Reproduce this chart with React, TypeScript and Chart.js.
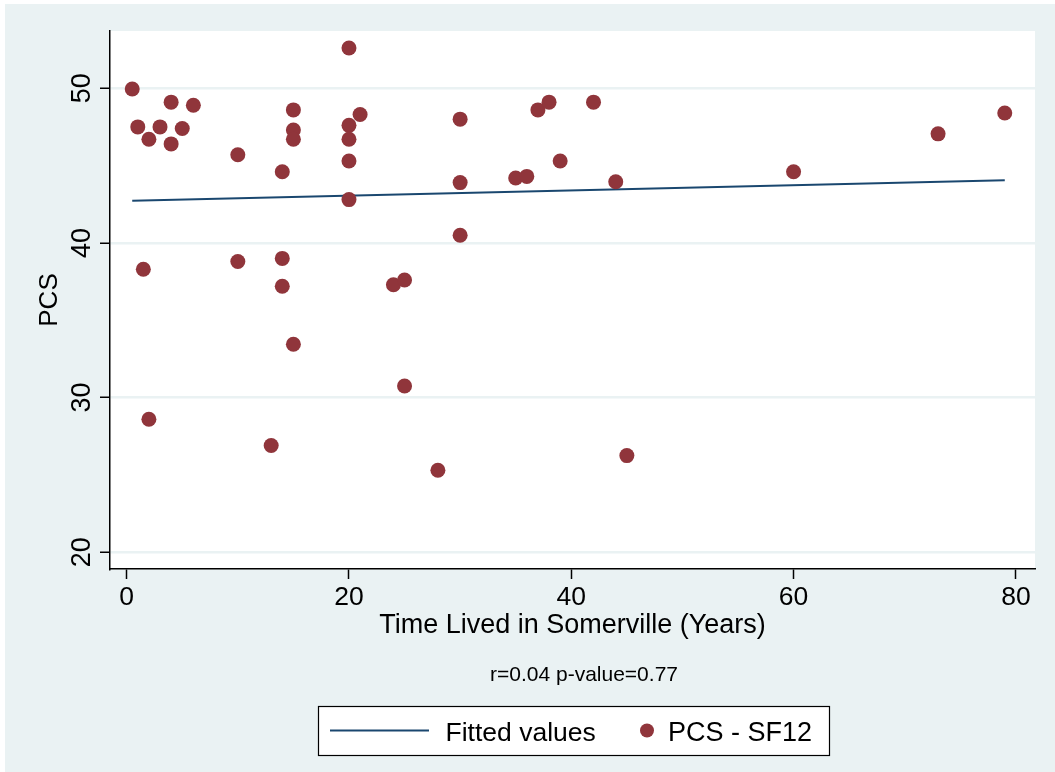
import React, { useEffect, useRef } from "react";
import { Chart, registerables } from "chart.js";

Chart.register(...registerables);

// Time lived in Somerville (years) and PCS - SF12 values
const timeYears = [
  0.5, 1, 1.5, 2, 2, 3, 4, 4, 5, 6,
  10, 10, 13, 14, 14, 14, 15, 15, 15, 15,
  20, 20, 20, 20, 20, 21, 24, 25, 25, 28,
  30, 30, 30, 35, 36, 37, 38, 39, 42, 44,
  45, 60, 73, 79,
];
const pcsValues = [
  49.95, 47.5, 38.3, 46.7, 28.6, 47.5, 49.1, 46.4, 47.4, 48.9,
  45.7, 38.8, 26.9, 44.6, 39.0, 37.2, 48.6, 47.3, 46.7, 33.45,
  52.6, 47.6, 46.7, 45.3, 42.8, 48.3, 37.3, 37.6, 30.75, 25.3,
  48.0, 43.9, 40.5, 44.2, 44.3, 48.6, 49.1, 45.3, 49.1, 43.95,
  26.25, 44.6, 47.05, 48.4,
];
// Fitted values line (end points)
const fitX = [0.5, 79];
const fitY = [42.72, 44.05];

const xTickValues = [0, 20, 40, 60, 80];
const yTickValues = [20, 30, 40, 50];

const xTitle = "Time Lived in Somerville (Years)";
const yTitle = "PCS";
const noteText = "r=0.04 p-value=0.77";
const fitLabel = "Fitted values";
const scatterLabel = "PCS - SF12";

const BG = "#eaf2f3";
const NAVY = "#1a476f";
const MAROON = "#90353b";
const FONT = "'Liberation Sans', Arial, Helvetica, sans-serif";

export default function App() {
  const canvasRef = useRef<HTMLCanvasElement | null>(null);

  useEffect(() => {
    const canvas = canvasRef.current;
    if (!canvas) return;

    const bgPlugin = {
      id: "stataBg",
      beforeDraw(chart: any) {
        const { ctx, chartArea } = chart;
        ctx.save();
        ctx.fillStyle = "#ffffff";
        ctx.fillRect(0, 0, chart.width, chart.height);
        ctx.fillStyle = BG;
        ctx.fillRect(5, 4, chart.width - 5, chart.height - 4);
        ctx.fillStyle = "#ffffff";
        ctx.fillRect(
          chartArea.left,
          chartArea.top,
          chartArea.right - chartArea.left,
          chartArea.bottom - chartArea.top
        );
        ctx.restore();
      },
      afterDraw(chart: any) {
        const { ctx } = chart;
        const yScale = chart.scales.y;
        ctx.save();
        // rotated y tick labels
        ctx.fillStyle = "#000";
        ctx.font = `27px ${FONT}`;
        yScale.ticks.forEach((t: any) => {
          const py = yScale.getPixelForValue(t.value);
          ctx.save();
          ctx.translate(89.5, py);
          ctx.rotate(-Math.PI / 2);
          ctx.textAlign = "center";
          ctx.textBaseline = "alphabetic";
          ctx.fillText(String(t.value), 0, 0);
          ctx.restore();
        });

        // note
        ctx.font = `21px ${FONT}`;
        ctx.textAlign = "center";
        ctx.textBaseline = "alphabetic";
        ctx.fillText(noteText, 584, 681);

        // legend
        const bx = 318, by = 706, bw = 511, bh = 49;
        ctx.fillStyle = "#ffffff";
        ctx.fillRect(bx, by, bw, bh);
        ctx.strokeStyle = "#000";
        ctx.lineWidth = 1.2;
        ctx.strokeRect(bx + 0.5, by + 0.5, bw, bh);
        const ds = chart.data.datasets;
        ctx.strokeStyle = ds[0].borderColor;
        ctx.lineWidth = 2;
        ctx.beginPath();
        ctx.moveTo(330, 730.5);
        ctx.lineTo(429, 730.5);
        ctx.stroke();
        ctx.fillStyle = "#000";
        ctx.font = `26.5px ${FONT}`;
        ctx.textAlign = "left";
        ctx.fillText(ds[0].label, 445.5, 740.5);
        ctx.fillStyle = ds[1].backgroundColor;
        ctx.beginPath();
        ctx.arc(647, 730.5, 7, 0, Math.PI * 2);
        ctx.fill();
        ctx.fillStyle = "#000";
        ctx.font = `27px ${FONT}`;
        ctx.fillText(ds[1].label, 668, 740.5);
        ctx.restore();
      },
    };

    const chart = new Chart(canvas, {
      type: "scatter",
      data: {
        datasets: [
          {
            type: "line",
            label: fitLabel,
            data: fitX.map((x, i) => ({ x, y: fitY[i] })),
            borderColor: NAVY,
            borderWidth: 2,
            pointRadius: 0,
            fill: false,
            order: 1,
          } as any,
          {
            type: "scatter",
            label: scatterLabel,
            data: timeYears.map((x, i) => ({ x, y: pcsValues[i] })),
            backgroundColor: MAROON,
            borderColor: MAROON,
            borderWidth: 0,
            pointRadius: 7.5,
            order: 0,
          },
        ],
      },
      options: {
        animation: false,
        responsive: false,
        devicePixelRatio: 1,
        events: [],
        layout: { padding: { left: 0, top: 31, right: 20, bottom: 0 } },
        plugins: {
          legend: { display: false },
          tooltip: { enabled: false },
          title: { display: false },
        },
        scales: {
          x: {
            type: "linear",
            min: -1.5,
            max: 81.72,
            afterBuildTicks: (scale: any) => {
              scale.ticks = xTickValues.map((v) => ({ value: v }));
            },
            afterFit: (scale: any) => {
              scale.height = 203;
              scale.paddingLeft = 0;
              scale.paddingRight = 0;
            },
            grid: {
              drawOnChartArea: false,
              drawTicks: true,
              tickLength: 10,
              tickColor: "#000",
              tickWidth: 1.5,
            },
            border: { display: true, color: "#000", width: 1.5 },
            ticks: {
              color: "#000",
              font: { family: FONT, size: 26.5 },
              padding: 3,
              maxRotation: 0,
              minRotation: 0,
            },
            title: {
              display: true,
              text: xTitle,
              color: "#000",
              font: { family: FONT, size: 27 },
              padding: { top: 0, bottom: 130 },
            },
          },
          y: {
            type: "linear",
            min: 18.92,
            max: 53.7,
            afterBuildTicks: (scale: any) => {
              scale.ticks = yTickValues.map((v) => ({ value: v }));
            },
            afterFit: (scale: any) => {
              scale.width = 110;
              scale.paddingTop = 0;
              scale.paddingBottom = 0;
            },
            grid: {
              drawOnChartArea: true,
              color: BG,
              lineWidth: 2.5,
              drawTicks: true,
              tickLength: 10,
              tickColor: "#000",
              tickWidth: 1.5,
            },
            border: { display: true, color: "#000", width: 1.5 },
            ticks: { display: false },
            title: {
              display: true,
              text: yTitle,
              color: "#000",
              font: { family: FONT, size: 26 },
              padding: { top: 34, bottom: 0 },
            },
          },
        },
      },
      plugins: [bgPlugin],
    } as any);

    return () => {
      chart.destroy();
    };
  }, []);

  return (
    <div style={{ position: "absolute", left: 0, top: 0, width: 1055, height: 772 }}>
      <canvas ref={canvasRef} width={1055} height={772} style={{ display: "block" }} />
    </div>
  );
}
